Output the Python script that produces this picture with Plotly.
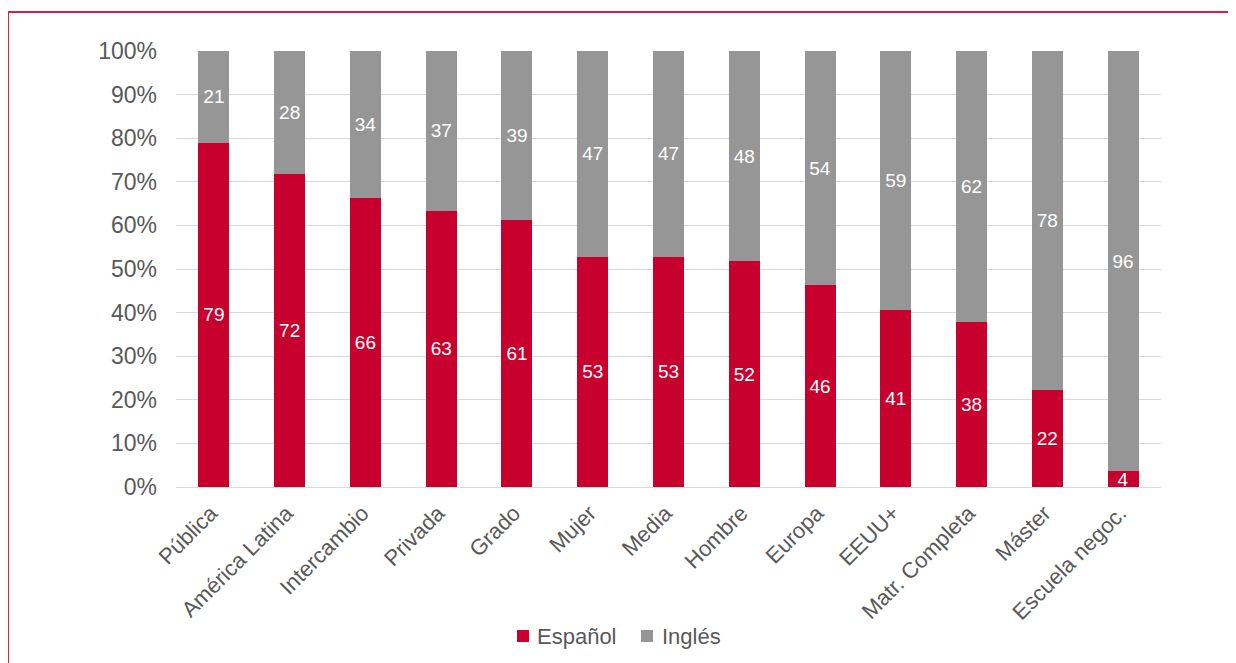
import plotly.graph_objects as go

categories = ["Pública", "América Latina", "Intercambio", "Privada", "Grado", "Mujer",
              "Media", "Hombre", "Europa", "EEUU+", "Matr. Completa", "Máster", "Escuela negoc."]
espanol = [79.0, 71.7, 66.3, 63.4, 61.3, 52.8, 52.8, 51.8, 46.3, 40.7, 37.8, 22.2, 3.6]
ingles = [21.0, 28.3, 33.7, 36.6, 38.7, 47.2, 47.2, 48.2, 53.7, 59.3, 62.2, 77.8, 96.4]
y_ticks = [0, 10, 20, 30, 40, 50, 60, 70, 80, 90, 100]
y_tick_text = [f"{v}%" for v in y_ticks]

# page body has an 8px margin; figure coordinates are reference minus 8
W, H = 1228, 655
L, R, T, B = 168, 75, 43, 176
pw, ph = W - L - R, H - T - B

RED = "#C8002D"
GRAY = "#969696"
TXT = "#595959"
FRAME = "#D4214B"
FONT = "Liberation Sans, Arial, sans-serif"


def px_x(x):
    return (x - L) / pw


def px_y(y):
    return (T + ph - y) / ph


fig = go.Figure()
series = [("Español", espanol, RED), ("Inglés", ingles, GRAY)]
for name, vals, col in series:
    fig.add_trace(go.Bar(x=categories, y=vals, name=name, marker_color=col,
                         marker_line_width=0, textangle=0,
                         texttemplate="%{y:.0f}", textposition="inside",
                         insidetextanchor="middle", constraintext="none",
                         textfont=dict(color="white", size=19, family=FONT)))

fig.update_layout(
    barmode="stack", bargap=0.59,
    width=W, height=H,
    margin=dict(l=L, r=R, t=T, b=B, pad=0),
    paper_bgcolor="white", plot_bgcolor="white",
    font=dict(family=FONT, color=TXT, size=22),
    showlegend=False,
    xaxis=dict(tickangle=-45, showgrid=False, showline=False, ticks="",
               ticklabelshift=-3, ticklabelstandoff=8,
               tickfont=dict(size=22, color=TXT, family=FONT)),
    yaxis=dict(range=[0, 100], tickmode="array", tickvals=y_ticks, ticktext=y_tick_text,
               showgrid=True, gridcolor="#D9D9D9", gridwidth=1, zeroline=True,
               zerolinecolor="#D9D9D9", zerolinewidth=1, showline=False, ticks="",
               ticklabelstandoff=18,
               tickfont=dict(size=23, color=TXT, family=FONT)),
)

# custom legend (squares + names from the traces)
legend_pos = [(509, 527), (633, 652)]
for (sq_x, tx_x), (name, _, col) in zip(legend_pos, series):
    fig.add_shape(type="rect", xref="paper", yref="paper",
                  x0=px_x(sq_x), x1=px_x(sq_x + 12), y0=px_y(634), y1=px_y(622),
                  fillcolor=col, line_width=0)
    fig.add_annotation(xref="paper", yref="paper", x=px_x(tx_x), y=px_y(628),
                       xanchor="left", yanchor="middle", showarrow=False, text=name,
                       font=dict(size=22, color=TXT, family=FONT))

# frame lines (top and left) of the original figure box
fig.add_shape(type="line", xref="paper", yref="paper",
              x0=px_x(0), x1=px_x(W + 10), y0=px_y(4), y1=px_y(4),
              line=dict(color=FRAME, width=2), layer="above")
fig.add_shape(type="line", xref="paper", yref="paper",
              x0=px_x(0), x1=px_x(0), y0=px_y(4), y1=px_y(H + 10),
              line=dict(color=FRAME, width=2), layer="above")

fig.write_html("out.html")
